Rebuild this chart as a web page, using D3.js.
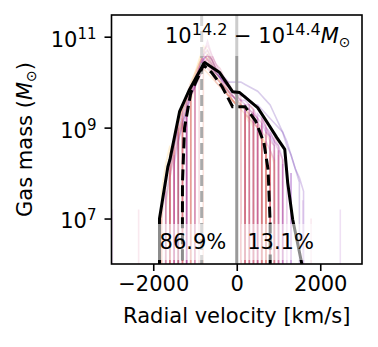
<!DOCTYPE html>
<html>
<head>
<meta charset="utf-8">
<script src="https://cdn.jsdelivr.net/npm/d3@7"></script>
<style>
  body { margin: 0; background: #fff; }
  svg { font-family: "DejaVu Sans", sans-serif; }
</style>
</head>
<body>
<svg id="chart"></svg>
<script>
// velocity grid (km/s) for the individual cluster curves
const vGrid = [-2000, -1900, -1800, -1700, -1600, -1500, -1400, -1300, -1200, -1100,
  -1000, -900, -800, -700, -600, -500, -400, -300, -200, -100,
  0, 100, 200, 300, 400, 500, 600, 700, 800, 900,
  1000, 1100, 1200, 1300, 1400, 1500, 1600, 1700, 1800];

// log10 gas mass per bin, 0 = empty bin
const faintCurves = [
  [0,0,0,7.4,8.0,8.6,9.0,9.3,9.6,9.8, 10.0,10.3,10.5,10.6,10.4,10.2,10.1,10.0,9.9,9.8, 9.8,9.7,9.7,9.6,9.5,9.5,9.4,9.3,9.2,9.1, 9.0,8.9,8.6,8.4,8.1,7.9,7.6,0,0],
  [0,0,0,0,8.0,0,8.9,9.2,0,9.7, 9.9,10.2,10.5,10.4,10.3,10.1,10.0,9.9,9.7,9.7, 9.6,9.5,9.4,0,9.3,9.2,0,9.0,8.8,0, 8.5,0,0,0,0,0,0,0,0],
  [0,0,7.3,0,8.4,8.8,0,9.4,9.6,0, 10.1,10.4,10.6,10.5,10.3,10.2,10.1,9.9,9.8,9.7, 9.6,0,9.5,9.5,9.4,0,9.2,9.1,0,8.8, 8.6,0,0,0,0,0,0,0,0],
  [0,0,0,7.8,0,8.7,9.1,0,9.6,9.8, 0,10.2,10.4,10.3,10.2,10.0,9.9,9.8,9.7,9.6, 9.5,0,9.4,9.3,0,9.1,9.0,0,8.7,8.6, 0,8.3,0,0,0,0,0,0,0],
  [0,0,0,0,7.9,8.5,0,9.2,9.5,9.8, 10.0,0,10.3,10.6,10.5,10.3,10.2,10.0,9.9,9.8, 9.7,9.6,0,9.4,9.3,9.2,0,8.9,8.7,0, 8.4,0,0,0,0,0,0,0,0],
  [0,0,0,0,0,8.4,8.8,9.1,0,9.6, 9.9,10.1,10.3,10.2,10.1,10.0,9.9,9.8,9.7,9.6, 9.5,0,9.3,9.1,0,8.9,8.7,0,8.4,0, 0,0,0,0,0,0,0,0,0],
  [0,0,7.6,8.2,8.6,0,9.1,9.4,9.6,9.9, 10.2,10.5,10.8,10.7,10.5,10.3,10.2,10.0,9.8,9.7, 9.6,9.5,9.4,9.3,9.1,9.0,8.8,8.6,0,8.3, 0,0,0,0,0,0,0,0,0],
  [0,0,0,0,8.2,8.6,9.0,0,9.5,9.8, 10.0,10.3,10.6,10.7,10.5,10.3,10.1,10.0,9.9,9.7, 9.6,0,9.5,9.4,9.3,0,9.1,8.9,8.8,8.6, 0,8.2,0,8.0,0,0,0,0,0],
  [0,0,0,7.6,0,8.3,8.9,0,9.4,9.7, 9.9,10.2,10.4,10.5,10.4,10.2,10.1,9.9,9.8,9.7, 9.6,9.6,9.5,0,9.4,9.2,9.1,0,8.9,8.7, 8.5,0,8.1,0,0,0,0,0,0],
  [0,0,0,0,8.3,8.7,9.1,9.4,0,9.8, 10.1,10.3,10.7,10.8,10.6,10.4,10.3,10.1,10.0,9.8, 9.7,9.7,0,9.5,9.4,0,9.2,9.0,8.8,0, 8.5,8.3,0,0,0,0,0,0,0],
  [0,0,7.0,7.7,8.2,0,8.9,9.2,9.5,0, 10.0,10.3,10.5,10.4,10.2,10.1,10.0,9.8,9.7,9.6, 9.5,9.5,9.4,9.2,0,9.1,8.9,8.8,0,8.5, 0,0,0,0,0,0,0,0,0],
  [0,0,0,0,0,0,8.7,9.1,9.4,9.7, 9.9,10.1,10.3,10.4,10.3,10.2,10.1,10.1,10.0,10.0, 10.0,10.0,9.95,9.9,9.85,9.8,9.7,9.6,9.5,9.3, 9.1,8.9,8.7,8.4,8.1,7.8,0,0,0],
  [0,0,0,0,7.9,8.4,0,9.0,9.3,9.7, 10.0,10.3,10.6,10.9,10.6,10.4,10.2,10.0,9.8,9.6, 9.5,0,9.3,9.2,9.1,9.0,0,8.7,8.5,8.3, 0,0,0,0,0,0,0,0,0],
  [0,0,0,7.2,8.0,8.6,9.1,9.4,9.7,10.0, 10.2,10.4,10.6,10.5,10.3,10.1,10.0,9.9,9.8,9.6, 9.5,9.4,9.3,0,9.1,9.0,8.8,0,8.5,8.2, 0,0,0,0,0,0,0,0,0],
  [0,0,0,0,0,8.2,8.7,9.1,9.4,0, 9.9,10.2,10.5,10.6,10.5,10.3,10.2,10.0,9.9,9.8, 9.7,9.6,9.6,9.5,0,9.3,9.2,9.0,8.9,8.7, 8.6,8.3,0,8.0,0,0,0,0,0],
  [0,0,0,0,8.0,0,8.8,9.2,0,9.8, 10.1,10.4,10.7,10.6,10.4,10.2,10.0,9.9,9.7,9.6, 9.5,0,9.3,9.2,9.0,0,8.8,8.6,0,0, 0,0,0,0,0,0,0,0,0]
];
const faintTones = [0.15, 0.3, 0.45, 0.55, 0.65, 0.75, 0.85, 0.2, 0.35, 0.5, 0.6, 0.1, 0.4, 0.7, 0.25, 0.8];

// lone spikes far from the bulk
const strayV = [-2980, -2350, 1580, 1780, 2480];
const strayM = [7.2, 7.2, 7.4, 7.0, 7.2];

// stacked profiles (black)
const solidV = [-1900, -1850, -1650, -1600, -1370, -1130, -940, -770, -410, -100, 70, 500, 720, 960, 1150, 1220, 1340, 1560, 1700];
const solidM = [0, 7.0, 8.14, 8.3, 9.35, 9.84, 10.16, 10.43, 10.21, 9.79, 9.77, 9.44, 9.13, 8.78, 8.52, 7.79, 6.98, 6.0, 5.5];
const dashV = [-1400, -1300, -1250, -1100, -900, -800, -600, -350, -100, 200, 450, 650, 750, 800, 900];
const dashM = [0, 7.8, 9.0, 9.77, 10.16, 10.38, 10.21, 9.9, 9.46, 9.46, 9.15, 8.67, 8.08, 6.9, 0];

const peakV = -840;
const splitV = 0;
const fractions = ['86.9%', '13.1%'];
const fractionV = [-1050, 1050];
const massRange = ['14.2', '14.4'];

const width = 378, height = 347;
const margin = { top: 15, right: 16, bottom: 83, left: 111.5 };
const fs = 21;

const svg = d3.select('#chart').attr('width', width).attr('height', height);

const x = d3.scaleLinear().domain([-3000, 3000]).range([margin.left, width - margin.right]);
const y = d3.scaleLog().domain([1e6, 3e11]).range([height - margin.bottom, margin.top]);
const yPos = lm => lm > 0 ? y(Math.pow(10, lm)) : y(1e-90);

svg.append('clipPath').attr('id', 'clip')
  .append('rect')
  .attr('x', margin.left).attr('y', margin.top)
  .attr('width', width - margin.left - margin.right)
  .attr('height', height - margin.top - margin.bottom);

const plot = svg.append('g').attr('clip-path', 'url(#clip)');
const line = d3.line().x(d => x(d[0])).y(d => yPos(d[1]));

// individual clusters
faintCurves.forEach((c, i) => {
  plot.append('path')
    .datum(c.map((m, j) => [vGrid[j], m]))
    .attr('d', line)
    .attr('fill', 'none')
    .attr('stroke', d3.interpolatePlasma(faintTones[i]))
    .attr('stroke-opacity', 0.2)
    .attr('stroke-width', 1.6);
});

strayV.forEach((v, i) => {
  plot.append('path')
    .datum([[v, strayM[i]], [v, 0]])
    .attr('d', line)
    .attr('fill', 'none')
    .attr('stroke', d3.interpolatePlasma(i % 2 ? 0.5 : 0.25))
    .attr('stroke-opacity', 0.12)
    .attr('stroke-width', 1.6);
});

// reference lines
plot.append('line')
  .attr('x1', x(peakV)).attr('x2', x(peakV))
  .attr('y1', margin.top).attr('y2', height - margin.bottom)
  .attr('stroke', '#aaa').attr('stroke-width', 3)
  .attr('stroke-dasharray', '11,5');
plot.append('line')
  .attr('x1', x(splitV)).attr('x2', x(splitV))
  .attr('y1', margin.top).attr('y2', height - margin.bottom)
  .attr('stroke', '#999').attr('stroke-width', 3);

plot.append('path')
  .datum(solidV.map((v, i) => [v, solidM[i]]))
  .attr('d', line)
  .attr('fill', 'none').attr('stroke', '#000').attr('stroke-width', 3)
  .attr('stroke-linejoin', 'round');
plot.append('path')
  .datum(dashV.map((v, i) => [v, dashM[i]]))
  .attr('d', line)
  .attr('fill', 'none').attr('stroke', '#000').attr('stroke-width', 3)
  .attr('stroke-dasharray', '11,5');

// text with translucent white box
function boxedText(g, tx, ty, anchor, build, alpha) {
  const grp = g.append('g');
  const rect = grp.append('rect').attr('fill', '#fff').attr('fill-opacity', alpha);
  const t = grp.append('text').attr('x', tx).attr('y', ty)
    .attr('text-anchor', anchor).attr('font-size', fs);
  build(t);
  const b = t.node().getBBox();
  const pad = 6;
  rect.attr('x', b.x - pad).attr('y', b.y - pad)
    .attr('width', b.width + 2 * pad).attr('height', b.height + 2 * pad);
}

fractions.forEach((f, i) => {
  boxedText(svg, x(fractionV[i]), 249, 'middle', t => t.text(f), 0.55);
});

boxedText(svg, 165, 43, 'start', t => {
  t.append('tspan').text('10');
  t.append('tspan').attr('dy', -8).attr('font-size', 16).text(massRange[0]);
  t.append('tspan').attr('dy', 8).text(' \u2212 10');
  t.append('tspan').attr('dy', -8).attr('font-size', 16).text(massRange[1]);
  t.append('tspan').attr('dy', 8).attr('font-style', 'italic').text('M');
  t.append('tspan').attr('dy', 4).attr('font-size', 14).text('\u2299');
}, 0.5);

// frame
svg.append('rect')
  .attr('x', margin.left).attr('y', margin.top)
  .attr('width', width - margin.left - margin.right)
  .attr('height', height - margin.top - margin.bottom)
  .attr('fill', 'none').attr('stroke', '#000').attr('stroke-width', 1.6);

// axes
const xAxis = svg.append('g')
  .attr('transform', `translate(0,${height - margin.bottom})`)
  .call(d3.axisBottom(x).tickValues([-2000, 0, 2000]).tickSize(7).tickPadding(5)
    .tickFormat(d3.format('d')));
xAxis.select('.domain').remove();
xAxis.selectAll('line').attr('stroke-width', 1.6);
xAxis.selectAll('text').attr('font-size', fs).attr('font-family', '"DejaVu Sans", sans-serif').attr('fill', '#000');

const yAxis = svg.append('g')
  .attr('transform', `translate(${margin.left},0)`)
  .call(d3.axisLeft(y).tickValues([1e7, 1e9, 1e11]).tickSize(7).tickPadding(8));
yAxis.select('.domain').remove();
yAxis.selectAll('line').attr('stroke-width', 1.6);
yAxis.selectAll('text')
  .attr('font-size', fs).attr('font-family', '"DejaVu Sans", sans-serif').attr('fill', '#000')
  .attr('dy', '0.45em')
  .each(function (d) {
    const t = d3.select(this).text('');
    t.append('tspan').text('10');
    t.append('tspan').attr('dy', -8).attr('font-size', 15).text(Math.round(Math.log10(d)));
  });

svg.append('text')
  .attr('x', (margin.left + width - margin.right) / 2).attr('y', 323)
  .attr('text-anchor', 'middle').attr('font-size', fs)
  .text('Radial velocity [km/s]');

const yl = svg.append('text')
  .attr('transform', `translate(32,${(margin.top + height - margin.bottom) / 2}) rotate(-90)`)
  .attr('text-anchor', 'middle').attr('font-size', fs);
yl.append('tspan').text('Gas mass (');
yl.append('tspan').attr('font-style', 'italic').text('M');
yl.append('tspan').attr('dy', 4).attr('font-size', 14).text('\u2299');
yl.append('tspan').attr('dy', -4).text(')');
</script>
</body>
</html>
